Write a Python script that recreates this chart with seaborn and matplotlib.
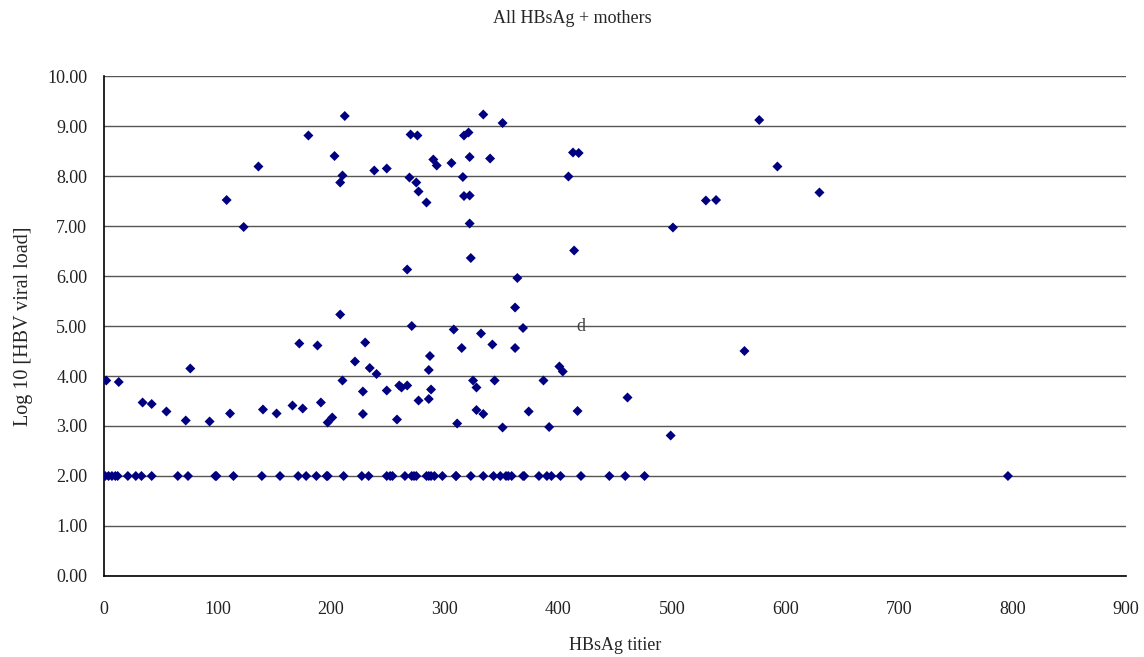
import numpy as np
import pandas as pd
import seaborn as sns
import matplotlib.pyplot as plt

# HBsAg titer and log10 viral load
titer_high = [212, 334, 180, 203, 136, 210, 208, 108, 123, 270, 276, 317, 321,
              351, 238, 249, 290, 293, 306, 322, 340, 413, 418, 269, 275, 277,
              284, 316, 409, 317, 322, 322, 323, 414, 267, 364, 577, 593, 630,
              530, 539, 501]
load_high = [9.20, 9.23, 8.81, 8.40, 8.19, 8.01, 7.87, 7.52, 6.98, 8.83, 8.81,
             8.81, 8.87, 9.06, 8.11, 8.15, 8.33, 8.21, 8.26, 8.38, 8.35, 8.47,
             8.46, 7.97, 7.87, 7.69, 7.47, 7.98, 7.99, 7.60, 7.61, 7.05, 6.36,
             6.51, 6.13, 5.96, 9.12, 8.19, 7.67, 7.51, 7.52, 6.97]

titer_mid = [208, 172, 188, 221, 76, 2, 13, 210, 34, 42, 55, 72, 93, 111, 140,
             152, 166, 175, 191, 197, 201, 271, 308, 332, 230, 315, 342, 287,
             234, 240, 286, 325, 344, 387, 401, 404, 228, 249, 260, 262, 267,
             288, 328, 277, 286, 228, 258, 328, 334, 374, 417, 461, 311, 351,
             392, 362, 369, 362, 564, 499]
load_mid = [5.23, 4.65, 4.61, 4.29, 4.15, 3.91, 3.88, 3.91, 3.47, 3.44, 3.29,
            3.11, 3.09, 3.25, 3.33, 3.25, 3.41, 3.35, 3.47, 3.07, 3.17, 5.00,
            4.93, 4.85, 4.67, 4.56, 4.63, 4.40, 4.16, 4.04, 4.12, 3.91, 3.91,
            3.91, 4.19, 4.09, 3.69, 3.71, 3.81, 3.77, 3.81, 3.73, 3.77, 3.51,
            3.54, 3.24, 3.13, 3.32, 3.24, 3.29, 3.30, 3.57, 3.05, 2.97, 2.98,
            5.37, 4.96, 4.56, 4.50, 2.81]

# samples at the detection floor (log10 = 2)
titer_floor = [1, 4, 7, 10, 12, 21, 28, 33, 42, 65, 74, 98, 99, 114, 139, 155,
               171, 178, 187, 196, 197, 211, 227, 233, 249, 252, 254, 265, 271,
               273, 275, 284, 286, 288, 291, 298, 310, 310, 323, 334, 343, 349,
               354, 356, 359, 369, 370, 383, 390, 394, 402, 420, 445, 459, 476,
               796]

df = pd.DataFrame({
    'titer': titer_high + titer_mid + titer_floor,
    'load': load_high + load_mid + [2.0] * len(titer_floor),
})

sns.set_style('white')
plt.rcParams['font.family'] = ['Liberation Serif', 'DejaVu Serif']

fig = plt.figure(figsize=(11.44, 6.57), dpi=100)
ax = fig.add_axes([0.0909, 0.1233, 0.8934, 0.761])

sns.scatterplot(data=df, x='titer', y='load', marker='D', color='#000080',
                edgecolor='none', s=26, ax=ax, zorder=3)

ax.set_xlim(0, 900)
ax.set_ylim(0, 10)
ax.set_xticks(np.arange(0, 901, 100))
ax.set_yticks(np.arange(0, 10.01, 1))
ax.yaxis.set_major_formatter(plt.FormatStrFormatter('%.2f'))
ax.yaxis.grid(True, color='#555555', linewidth=1)
ax.xaxis.grid(False)
ax.set_axisbelow(True)

for side in ['top', 'right']:
    ax.spines[side].set_visible(False)
for side in ['left', 'bottom']:
    ax.spines[side].set_color('black')
    ax.spines[side].set_linewidth(1.2)

ax.tick_params(axis='x', direction='in', length=5, color='black',
               labelsize=13, pad=18, labelcolor='#222222')
ax.tick_params(axis='y', direction='out', length=4, color='black',
               labelsize=13, pad=8, labelcolor='#222222')

ax.set_xlabel('HBsAg titier', fontsize=13, labelpad=14)
ax.set_ylabel('Log 10 [HBV viral load]', fontsize=14.5, labelpad=10)
fig.suptitle('All HBsAg + mothers', fontsize=13, y=0.985)

ax.text(420, 5.0, 'd', ha='center', va='center', fontsize=13, color='#444444')

fig.savefig('out.png', dpi=100)
